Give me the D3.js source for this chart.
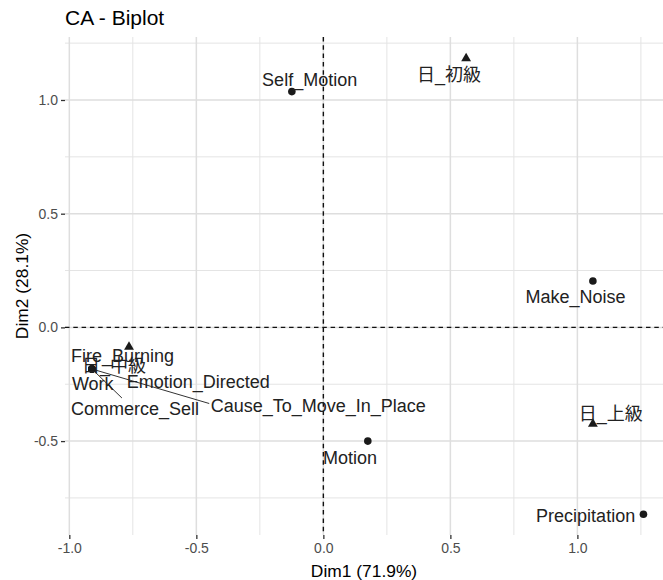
<!DOCTYPE html>
<html>
<head>
<meta charset="utf-8">
<script src="https://cdn.jsdelivr.net/npm/d3@7"></script>
<style>
  html, body { margin: 0; padding: 0; background: #fff; }
  svg { display: block; }
</style>
</head>
<body>
<svg id="chart" width="663" height="580"></svg>
<script>
// ---------------- DATA ----------------
const rowNames = ["Self_Motion", "Make_Noise", "Motion", "Precipitation",
                  "Fire_Burning", "Work", "Emotion_Directed", "Commerce_Sell", "Cause_To_Move_In_Place"];
const rowDim1  = [-0.124, 1.061, 0.175, 1.260, -0.911, -0.911, -0.911, -0.911, -0.911];
const rowDim2  = [ 1.037, 0.204, -0.500, -0.822, -0.183, -0.183, -0.183, -0.183, -0.183];

const colNames = ["日_初級", "日_中級", "日_上級"];
const colDim1  = [0.562, -0.765, 1.061];
const colDim2  = [1.183, -0.086, -0.425];

const xTicks = [-1.0, -0.5, 0.0, 0.5, 1.0];
const yTicks = [-0.5, 0.0, 0.5, 1.0];
const xMinor = [-0.75, -0.25, 0.25, 0.75, 1.25];
const yMinor = [-0.75, -0.25, 0.25, 0.75, 1.25];

const titleText = "CA - Biplot";
const xTitle = "Dim1 (71.9%)";
const yTitle = "Dim2 (28.1%)";

// ---------------- LAYOUT (label placement, px offsets from point) ----------------
const labelOffset = {
  "Self_Motion": [17.8, -11.7],
  "Make_Noise": [-17.4, 16],
  "Motion": [-17.7, 16],
  "Precipitation": [-57.8, 1.2],
  "Fire_Burning": [30.5, -13.5],
  "Work": [0.8, 14.5],
  "Emotion_Directed": [106.3, 12.5],
  "Commerce_Sell": [43, 40],
  "Cause_To_Move_In_Place": [226.3, 36.5],
  "日_初級": [-17, 16.2],
  "日_中級": [-15, 18.5],
  "日_上級": [17.8, -10.5]
};
// segment end relative to label centre
const segmentEnd = {
  "Cause_To_Move_In_Place": [-109, -2],
  "Commerce_Sell": [-13, -11]
};

const panel = { left: 65, right: 663, top: 37, bottom: 535 };
const svg = d3.select("#chart");
const FONT = "'Liberation Sans', Arial, 'Noto Sans CJK JP', sans-serif";

const x = d3.scaleLinear().domain([-1.017, 1.337]).range([panel.left, panel.right]);
const y = d3.scaleLinear().domain([-0.913, 1.277]).range([panel.bottom, panel.top]);

// grid
const g = svg.append("g");
g.selectAll(".vminor").data(xMinor).join("line")
  .attr("x1", d => x(d)).attr("x2", d => x(d))
  .attr("y1", panel.top).attr("y2", panel.bottom)
  .attr("stroke", "#e4e4e4").attr("stroke-width", 1);
g.selectAll(".hminor").data(yMinor).join("line")
  .attr("y1", d => y(d)).attr("y2", d => y(d))
  .attr("x1", panel.left).attr("x2", panel.right)
  .attr("stroke", "#e4e4e4").attr("stroke-width", 1);
g.selectAll(".vmajor").data(xTicks).join("line")
  .attr("x1", d => x(d)).attr("x2", d => x(d))
  .attr("y1", panel.top).attr("y2", panel.bottom)
  .attr("stroke", "#dedede").attr("stroke-width", 1.5);
g.selectAll(".hmajor").data(yTicks).join("line")
  .attr("y1", d => y(d)).attr("y2", d => y(d))
  .attr("x1", panel.left).attr("x2", panel.right)
  .attr("stroke", "#dedede").attr("stroke-width", 1.5);

// zero lines
svg.append("line")
  .attr("x1", panel.left).attr("x2", panel.right)
  .attr("y1", y(0)).attr("y2", y(0))
  .attr("stroke", "#111").attr("stroke-width", 1.4).attr("stroke-dasharray", "4.5,3.8");
svg.append("line")
  .attr("y1", panel.top).attr("y2", panel.bottom)
  .attr("x1", x(0)).attr("x2", x(0))
  .attr("stroke", "#111").attr("stroke-width", 1.4).attr("stroke-dasharray", "4.5,3.8");

// axes
const xAxis = svg.append("g").attr("transform", `translate(0,${panel.bottom})`)
  .call(d3.axisBottom(x).tickValues(xTicks).tickFormat(d3.format(".1f")).tickSize(4).tickPadding(4));
const yAxis = svg.append("g").attr("transform", `translate(${panel.left},0)`)
  .call(d3.axisLeft(y).tickValues(yTicks).tickFormat(d3.format(".1f")).tickSize(4).tickPadding(3));
[xAxis, yAxis].forEach(a => {
  a.select(".domain").remove();
  a.selectAll(".tick line").attr("stroke", "#333").attr("stroke-width", 1.3);
  a.selectAll(".tick text").attr("fill", "#4d4d4d").style("font-family", FONT).style("font-size", "14px");
});
xAxis.selectAll(".tick text").text(d => d3.format(".1f")(d).replace("−", "-"));
yAxis.selectAll(".tick text").text(d => d3.format(".1f")(d).replace("−", "-"));

// titles
svg.append("text").attr("x", panel.left).attr("y", 25)
  .style("font-family", FONT).style("font-size", "21px").attr("fill", "#000").text(titleText);
svg.append("text").attr("x", (panel.left + panel.right) / 2).attr("y", 577)
  .attr("text-anchor", "middle").style("font-family", FONT).style("font-size", "17.4px").attr("fill", "#000").text(xTitle);
svg.append("text").attr("transform", `translate(28,${(panel.top + panel.bottom) / 2}) rotate(-90)`)
  .attr("text-anchor", "middle").style("font-family", FONT).style("font-size", "17.4px").attr("fill", "#000").text(yTitle);

// combined label records
const pts = rowNames.map((n, i) => ({ name: n, d1: rowDim1[i], d2: rowDim2[i], type: "row" }))
  .concat(colNames.map((n, i) => ({ name: n, d1: colDim1[i], d2: colDim2[i], type: "col" })));

// segments
svg.append("g").selectAll("line").data(pts.filter(p => segmentEnd[p.name])).join("line")
  .attr("x1", p => x(p.d1)).attr("y1", p => y(p.d2))
  .attr("x2", p => x(p.d1) + labelOffset[p.name][0] + segmentEnd[p.name][0])
  .attr("y2", p => y(p.d2) + labelOffset[p.name][1] + segmentEnd[p.name][1])
  .attr("stroke", "#333").attr("stroke-width", 1);

// points
svg.append("g").selectAll("circle").data(pts.filter(p => p.type === "row")).join("circle")
  .attr("cx", p => x(p.d1)).attr("cy", p => y(p.d2)).attr("r", 3.8).attr("fill", "#1a1a1a");
svg.append("g").selectAll("path").data(pts.filter(p => p.type === "col")).join("path")
  .attr("d", d3.symbol(d3.symbolTriangle, 42))
  .attr("transform", p => `translate(${x(p.d1)},${y(p.d2)})`).attr("fill", "#1a1a1a");

// labels
svg.append("g").selectAll("text").data(pts).join("text")
  .attr("x", p => x(p.d1) + labelOffset[p.name][0])
  .attr("y", p => y(p.d2) + labelOffset[p.name][1])
  .attr("dy", "0.36em")
  .attr("text-anchor", "middle")
  .style("font-family", FONT).style("font-size", "18px").attr("fill", "#222")
  .text(p => p.name);
</script>
</body>
</html>
